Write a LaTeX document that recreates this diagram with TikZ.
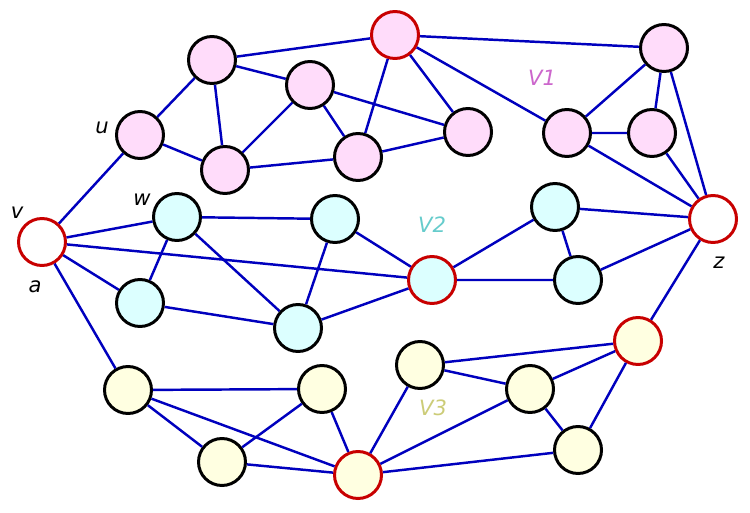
\documentclass[tikz,border=0pt]{standalone}
\usepackage{fontspec}
\setmainfont{DejaVu Sans}
\definecolor{edgeblue}{RGB}{0,0,190}
\definecolor{cutred}{RGB}{200,0,0}
\definecolor{pinkfill}{RGB}{255,220,250}
\definecolor{cyanfill}{RGB}{220,255,255}
\definecolor{yellowfill}{RGB}{255,255,225}
\definecolor{labpink}{RGB}{204,102,204}
\definecolor{labcyan}{RGB}{102,204,204}
\definecolor{labyellow}{RGB}{204,204,119}
\begin{document}
\begin{tikzpicture}[x=0.02cm, y=-0.02cm,
		vtx/.style={draw, circle, minimum size=0.94cm, inner sep=0pt, line width=1.7pt},
		cut/.style={vtx, draw=cutred},
		edge/.style={draw=edgeblue, line width=1.4pt},
		lab/.style={font=\itshape\fontsize{12}{12}\selectfont}]
			\fill[white] (0, 0) rectangle (750, 513);

			\draw (395, 35) 	node[cut, fill=pinkfill] 	(p_top) 	{};
			\draw (212, 60) 	node[vtx, fill=pinkfill] 	(p1) 		{};
			\draw (310, 85) 	node[vtx, fill=pinkfill] 	(p2) 		{};
			\draw (140, 135) 	node[vtx, fill=pinkfill] 	(u) 		{};
			\draw (225, 170) 	node[vtx, fill=pinkfill] 	(p3) 		{};
			\draw (358, 157) 	node[vtx, fill=pinkfill] 	(p4) 		{};
			\draw (468, 132) 	node[vtx, fill=pinkfill] 	(p5) 		{};
			\draw (567, 133) 	node[vtx, fill=pinkfill] 	(p6) 		{};
			\draw (664, 48) 	node[vtx, fill=pinkfill] 	(p7) 		{};
			\draw (652, 133) 	node[vtx, fill=pinkfill] 	(p8) 		{};

			\draw (42, 242) 	node[cut, fill=white] 		(v) 		{};
			\draw (713, 219) 	node[cut, fill=white] 		(z) 		{};

			\draw (177, 217) 	node[vtx, fill=cyanfill] 	(w) 		{};
			\draw (335, 219) 	node[vtx, fill=cyanfill] 	(c2) 		{};
			\draw (432, 280) 	node[cut, fill=cyanfill] 	(c_cut) 	{};
			\draw (555, 207) 	node[vtx, fill=cyanfill] 	(c4) 		{};
			\draw (578, 280) 	node[vtx, fill=cyanfill] 	(c5) 		{};
			\draw (140, 303) 	node[vtx, fill=cyanfill] 	(c6) 		{};
			\draw (298, 328) 	node[vtx, fill=cyanfill] 	(c7) 		{};

			\draw (128, 390) 	node[vtx, fill=yellowfill] 	(y1) 		{};
			\draw (322, 389) 	node[vtx, fill=yellowfill] 	(y2) 		{};
			\draw (222, 462) 	node[vtx, fill=yellowfill] 	(y3) 		{};
			\draw (358, 475) 	node[cut, fill=yellowfill] 	(y_cut) 	{};
			\draw (420, 365) 	node[vtx, fill=yellowfill] 	(y5) 		{};
			\draw (530, 389) 	node[vtx, fill=yellowfill] 	(y6) 		{};
			\draw (578, 450) 	node[vtx, fill=yellowfill] 	(y7) 		{};
			\draw (638, 341) 	node[cut, fill=yellowfill] 	(y_top) 	{};

			% labels
			\node[lab, labpink] 	(l_v1) 	at (542, 78) 	{V1};
			\node[lab, labcyan] 	(l_v2) 	at (432, 225) 	{V2};
			\node[lab, labyellow] 	(l_v3) 	at (433, 408) 	{V3};
			\node[lab] 	(l_u) 	at (102, 128) 	{u};
			\node[lab] 	(l_v) 	at (17, 213) 	{v};
			\node[lab] 	(l_w) 	at (142, 200) 	{w};
			\node[lab] 	(l_a) 	at (35, 287) 	{a};
			\node[lab] 	(l_z) 	at (719, 263) 	{z};

			% V1
			\draw[edge] (p1) -- (p_top);
			\draw[edge] (p1) -- (p2);
			\draw[edge] (p1) -- (u);
			\draw[edge] (p1) -- (p3);
			\draw[edge] (u) -- (p3) -- (p2) -- (p4) -- (p3);
			\draw[edge] (p2) -- (p5) -- (p4) -- (p_top);
			\draw[edge] (p_top) -- (p5);
			\draw[edge] (p_top) -- (p6);
			\draw[edge] (p_top) -- (p7);
			\draw[edge] (p6) -- (p7) -- (p8) -- (p6);
			\draw[edge] (p6) -- (z);
			\draw[edge] (p8) -- (z);
			\draw[edge] (p7) -- (z);
			% V2
			\draw[edge] (v) -- (u);
			\draw[edge] (v) -- (w);
			\draw[edge] (v) -- (c_cut);
			\draw[edge] (v) -- (c6);
			\draw[edge] (w) -- (c2);
			\draw[edge] (w) -- (c6) -- (c7) -- (w);
			\draw[edge] (c2) -- (c7) -- (c_cut) -- (c2);
			\draw[edge] (c_cut) -- (c4) -- (c5) -- (c_cut);
			\draw[edge] (c4) -- (z);
			\draw[edge] (c5) -- (z);
			% V3
			\draw[edge] (v) -- (y1);
			\draw[edge] (y1) -- (y2);
			\draw[edge] (y1) -- (y3);
			\draw[edge] (y1) -- (y_cut);
			\draw[edge] (y2) -- (y3) -- (y_cut) -- (y2);
			\draw[edge] (y_cut) -- (y5) -- (y6) -- (y_cut) -- (y7);
			\draw[edge] (y5) -- (y_top) -- (y6) -- (y7) -- (y_top);
			\draw[edge] (y_top) -- (z);
\end{tikzpicture}
\end{document}
